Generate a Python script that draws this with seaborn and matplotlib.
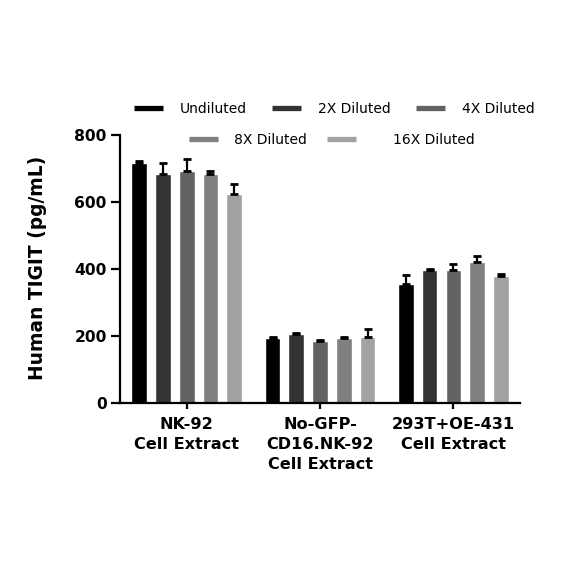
import matplotlib
matplotlib.use("Agg")
import matplotlib.pyplot as plt
from matplotlib.lines import Line2D
import pandas as pd
import seaborn as sns

samples = ["NK-92\nCell Extract", "No-GFP-\nCD16.NK-92\nCell Extract",
           "293T+OE-431\nCell Extract"]
dilutions = ["Undiluted", "2X Diluted", "4X Diluted", "8X Diluted", "16X Diluted"]
colors = ["#000000", "#333333", "#636363", "#808080", "#a2a2a4"]

# mean per sample, one list per dilution
undiluted = [717, 194, 355]
dil_2x = [684, 204, 395]
dil_4x = [691, 185, 395]
dil_8x = [682, 194, 421]
dil_16x = [624, 196, 377]

err_undiluted = [5, 3, 26]
err_2x = [32, 3, 3]
err_4x = [38, 3, 18]
err_8x = [11, 3, 16]
err_16x = [28, 24, 8]

means = [undiluted, dil_2x, dil_4x, dil_8x, dil_16x]
errs = [err_undiluted, err_2x, err_4x, err_8x, err_16x]

rows = []
for dil, vals, ers in zip(dilutions, means, errs):
    for s, v, e in zip(samples, vals, ers):
        rows.append({"Sample": s, "Dilution": dil, "TIGIT": v, "err": e})
df = pd.DataFrame(rows)

sns.set_style("ticks")
plt.rcParams["font.family"] = ["DejaVu Sans"]
plt.rcParams.update({"text.color": "black", "axes.labelcolor": "black",
                     "xtick.color": "black", "ytick.color": "black"})

fig = plt.figure(figsize=(5.84, 5.84), dpi=100)
ax = fig.add_axes([0.2055, 0.3105, 0.685, 0.4585])

sns.barplot(data=df, x="Sample", y="TIGIT", hue="Dilution",
            order=samples, hue_order=dilutions, palette=colors,
            width=0.89, gap=0.34, errorbar=None, legend=False,
            saturation=1, ax=ax)

# upper-only error bars at the bar centres seaborn produced
for bar, (_, r) in zip(ax.patches, df.iterrows()):
    x = bar.get_x() + bar.get_width() / 2
    ax.errorbar(x, bar.get_height(), yerr=[[0], [r["err"]]], fmt="none",
                ecolor="black", elinewidth=1.6, capsize=3, capthick=2)

ax.set_ylim(0, 800)
ax.set_xlim(-0.5, 2.5)
ax.set_yticks([0, 200, 400, 600, 800])
ax.set_xlabel("")
ax.set_ylabel("Human TIGIT (pg/mL)", fontsize=13.4, fontweight="bold")
ax.yaxis.set_label_coords(-0.183, 0.505)
for lab in ax.get_xticklabels():
    lab.set_fontweight("bold")
    lab.set_fontsize(11.6)
    lab.set_linespacing(1.4)
for lab in ax.get_yticklabels():
    lab.set_fontweight("bold")
    lab.set_fontsize(11.2)
ax.tick_params(axis="y", width=1.6, length=6.5, pad=3)
ax.tick_params(axis="x", width=1.6, length=4.5, pad=6)
sns.despine(ax=ax)
for sp in ["left", "bottom"]:
    ax.spines[sp].set_linewidth(1.6)
    ax.spines[sp].set_color("black")

handles = [Line2D([], [], color=c, lw=3.8, solid_capstyle="butt") for c in colors]
leg_kw = dict(loc="center left", frameon=False, fontsize=10, handlelength=2.07,
              borderpad=0, borderaxespad=0)
fig.legend(handles[:3], dilutions[:3], bbox_to_anchor=(0.2295, 0.813),
           ncol=3, columnspacing=1.85, handletextpad=1.2, **leg_kw)
fig.legend(handles[3:4], dilutions[3:4], bbox_to_anchor=(0.3236, 0.760),
           handletextpad=1.2, **leg_kw)
fig.legend(handles[4:], dilutions[4:], bbox_to_anchor=(0.560, 0.760),
           handletextpad=2.65, **leg_kw)

fig.savefig("out.png", dpi=100)
